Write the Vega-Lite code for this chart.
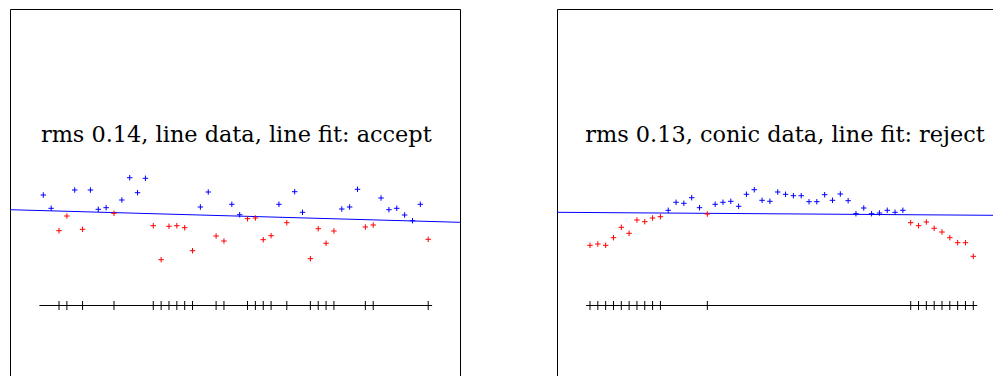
{
  "$schema": "https://vega.github.io/schema/vega-lite/v6.json",
  "background": "white",
  "padding": {"left": 8, "top": 9, "right": 0, "bottom": 0},
  "spacing": 97,
  "bounds": "flush",
  "config": {
    "view": {"stroke": null},
    "axis": {"domainColor": "black", "domainWidth": 1, "labels": false, "ticks": false, "grid": false, "title": null}
  },
  "datasets": {
    "left": [
      {"i": 0, "v": 1.105, "c": "above"}, {"i": 1, "v": 0.972, "c": "above"}, {"i": 2, "v": 0.748, "c": "below"}, {"i": 3, "v": 0.895, "c": "below"},
      {"i": 4, "v": 1.155, "c": "above"}, {"i": 5, "v": 0.762, "c": "below"}, {"i": 6, "v": 1.155, "c": "above"}, {"i": 7, "v": 0.962, "c": "above"},
      {"i": 8, "v": 0.978, "c": "above"}, {"i": 9, "v": 0.922, "c": "below"}, {"i": 10, "v": 1.055, "c": "above"}, {"i": 11, "v": 1.278, "c": "above"},
      {"i": 12, "v": 1.128, "c": "above"}, {"i": 13, "v": 1.272, "c": "above"}, {"i": 14, "v": 0.798, "c": "below"}, {"i": 15, "v": 0.458, "c": "below"},
      {"i": 16, "v": 0.792, "c": "below"}, {"i": 17, "v": 0.798, "c": "below"}, {"i": 18, "v": 0.778, "c": "below"}, {"i": 19, "v": 0.548, "c": "below"},
      {"i": 20, "v": 0.985, "c": "above"}, {"i": 21, "v": 1.135, "c": "above"}, {"i": 22, "v": 0.695, "c": "below"}, {"i": 23, "v": 0.645, "c": "below"},
      {"i": 24, "v": 1.012, "c": "above"}, {"i": 25, "v": 0.908, "c": "above"}, {"i": 26, "v": 0.868, "c": "below"}, {"i": 27, "v": 0.875, "c": "below"},
      {"i": 28, "v": 0.658, "c": "below"}, {"i": 29, "v": 0.698, "c": "below"}, {"i": 30, "v": 1.012, "c": "above"}, {"i": 31, "v": 0.828, "c": "below"},
      {"i": 32, "v": 1.138, "c": "above"}, {"i": 33, "v": 0.932, "c": "above"}, {"i": 34, "v": 0.468, "c": "below"}, {"i": 35, "v": 0.768, "c": "below"},
      {"i": 36, "v": 0.622, "c": "below"}, {"i": 37, "v": 0.745, "c": "below"}, {"i": 38, "v": 0.965, "c": "above"}, {"i": 39, "v": 0.985, "c": "above"},
      {"i": 40, "v": 1.162, "c": "above"}, {"i": 41, "v": 0.785, "c": "below"}, {"i": 42, "v": 0.805, "c": "below"}, {"i": 43, "v": 1.075, "c": "above"},
      {"i": 44, "v": 0.958, "c": "above"}, {"i": 45, "v": 0.972, "c": "above"}, {"i": 46, "v": 0.905, "c": "above"}, {"i": 47, "v": 0.848, "c": "above"},
      {"i": 48, "v": 1.012, "c": "above"}, {"i": 49, "v": 0.662, "c": "below"}
    ],
    "right": [
      {"i": 0, "v": 0.602, "c": "below"}, {"i": 1, "v": 0.615, "c": "below"}, {"i": 2, "v": 0.602, "c": "below"}, {"i": 3, "v": 0.678, "c": "below"},
      {"i": 4, "v": 0.782, "c": "below"}, {"i": 5, "v": 0.722, "c": "below"}, {"i": 6, "v": 0.855, "c": "below"}, {"i": 7, "v": 0.838, "c": "below"},
      {"i": 8, "v": 0.875, "c": "below"}, {"i": 9, "v": 0.888, "c": "below"}, {"i": 10, "v": 0.952, "c": "above"}, {"i": 11, "v": 1.032, "c": "above"},
      {"i": 12, "v": 1.022, "c": "above"}, {"i": 13, "v": 1.078, "c": "above"}, {"i": 14, "v": 0.978, "c": "above"}, {"i": 15, "v": 0.915, "c": "below"},
      {"i": 16, "v": 1.012, "c": "above"}, {"i": 17, "v": 1.032, "c": "above"}, {"i": 18, "v": 1.042, "c": "above"}, {"i": 19, "v": 0.992, "c": "above"},
      {"i": 20, "v": 1.112, "c": "above"}, {"i": 21, "v": 1.158, "c": "above"}, {"i": 22, "v": 1.052, "c": "above"}, {"i": 23, "v": 1.042, "c": "above"},
      {"i": 24, "v": 1.135, "c": "above"}, {"i": 25, "v": 1.112, "c": "above"}, {"i": 26, "v": 1.098, "c": "above"}, {"i": 27, "v": 1.098, "c": "above"},
      {"i": 28, "v": 1.038, "c": "above"}, {"i": 29, "v": 1.038, "c": "above"}, {"i": 30, "v": 1.108, "c": "above"}, {"i": 31, "v": 1.052, "c": "above"},
      {"i": 32, "v": 1.115, "c": "above"}, {"i": 33, "v": 1.048, "c": "above"}, {"i": 34, "v": 0.918, "c": "above"}, {"i": 35, "v": 0.975, "c": "above"},
      {"i": 36, "v": 0.918, "c": "above"}, {"i": 37, "v": 0.925, "c": "above"}, {"i": 38, "v": 0.952, "c": "above"}, {"i": 39, "v": 0.932, "c": "above"},
      {"i": 40, "v": 0.952, "c": "above"}, {"i": 41, "v": 0.828, "c": "below"}, {"i": 42, "v": 0.798, "c": "below"}, {"i": 43, "v": 0.835, "c": "below"},
      {"i": 44, "v": 0.772, "c": "below"}, {"i": 45, "v": 0.735, "c": "below"}, {"i": 46, "v": 0.678, "c": "below"}, {"i": 47, "v": 0.628, "c": "below"},
      {"i": 48, "v": 0.628, "c": "below"}, {"i": 49, "v": 0.492, "c": "below"}
    ],
    "leftfit": [{"i": -4.24, "v": 0.958}, {"i": 53.05, "v": 0.832}],
    "rightfit": [{"i": -4.22, "v": 0.932}, {"i": 51.52, "v": 0.902}]
  },
  "hconcat": [
    {
      "width": 450,
      "height": 367,
      "layer": [
        {
          "data": {"name": "leftfit"},
          "mark": {"type": "line", "color": "#0000ff", "strokeWidth": 1},
          "encoding": {
            "x": {"field": "i", "type": "quantitative", "scale": {"domain": [-4.24, 53.05], "nice": false, "zero": false}, "axis": {"orient": "top"}},
            "y": {"field": "v", "type": "quantitative", "scale": {"domain": [-0.705, 2.965], "nice": false, "zero": false}, "axis": {"orient": "left"}}
          }
        },
        {
          "data": {"name": "left"},
          "mark": {"type": "point", "shape": "M-1,0L1,0M0,-1L0,1", "filled": false, "size": 30, "strokeWidth": 1, "opacity": 1},
          "encoding": {
            "x": {"field": "i", "type": "quantitative", "axis": {"orient": "top"}},
            "y": {"field": "v", "type": "quantitative", "axis": {"orient": "right"}},
            "color": {"field": "c", "type": "nominal", "scale": {"domain": ["above", "below"], "range": ["#0000ff", "#ff0000"]}, "legend": null}
          }
        },
        {
          "data": {"name": "left"},
          "transform": [{"filter": "datum.c === 'below'"}],
          "mark": {"type": "rule", "color": "black", "strokeWidth": 1},
          "encoding": {
            "x": {"field": "i", "type": "quantitative", "axis": {"orient": "top"}},
            "y": {"datum": -0.045, "type": "quantitative", "axis": null},
            "y2": {"datum": 0.045}
          }
        },
        {
          "data": {"values": [{}]},
          "mark": {"type": "rule", "color": "black", "strokeWidth": 1},
          "encoding": {
            "x": {"datum": -0.5, "type": "quantitative", "axis": {"orient": "top"}},
            "x2": {"datum": 49.5},
            "y": {"datum": 0, "type": "quantitative", "axis": null}
          }
        },
        {
          "data": {"values": [{"label": "rms 0.14, line data, line fit: accept"}]},
          "mark": {"type": "text", "font": "DejaVu Serif", "fontSize": 22.4, "color": "black", "align": "center", "baseline": "alphabetic"},
          "encoding": {
            "x": {"datum": 24.57, "type": "quantitative", "axis": {"orient": "top"}},
            "y": {"datum": 1.632, "type": "quantitative", "axis": null},
            "text": {"field": "label"}
          }
        }
      ],
      "resolve": {"axis": {"y": "independent"}}
    },
    {
      "width": 436,
      "height": 367,
      "layer": [
        {
          "data": {"name": "rightfit"},
          "mark": {"type": "line", "color": "#0000ff", "strokeWidth": 1},
          "encoding": {
            "x": {"field": "i", "type": "quantitative", "scale": {"domain": [-4.22, 51.52], "nice": false, "zero": false}, "axis": {"orient": "top"}},
            "y": {"field": "v", "type": "quantitative", "scale": {"domain": [-0.705, 2.965], "nice": false, "zero": false}, "axis": {"orient": "left"}}
          }
        },
        {
          "data": {"name": "right"},
          "mark": {"type": "point", "shape": "M-1,0L1,0M0,-1L0,1", "filled": false, "size": 30, "strokeWidth": 1, "opacity": 1},
          "encoding": {
            "x": {"field": "i", "type": "quantitative", "axis": {"orient": "top"}},
            "y": {"field": "v", "type": "quantitative", "axis": {"orient": "left"}},
            "color": {"field": "c", "type": "nominal", "scale": {"domain": ["above", "below"], "range": ["#0000ff", "#ff0000"]}, "legend": null}
          }
        },
        {
          "data": {"name": "right"},
          "transform": [{"filter": "datum.c === 'below'"}],
          "mark": {"type": "rule", "color": "black", "strokeWidth": 1},
          "encoding": {
            "x": {"field": "i", "type": "quantitative", "axis": {"orient": "top"}},
            "y": {"datum": -0.045, "type": "quantitative", "axis": {"orient": "left"}},
            "y2": {"datum": 0.045}
          }
        },
        {
          "data": {"values": [{}]},
          "mark": {"type": "rule", "color": "black", "strokeWidth": 1},
          "encoding": {
            "x": {"datum": -0.5, "type": "quantitative", "axis": {"orient": "top"}},
            "x2": {"datum": 49.5},
            "y": {"datum": 0, "type": "quantitative", "axis": {"orient": "left"}}
          }
        },
        {
          "data": {"values": [{"label": "rms 0.13, conic data, line fit: reject"}]},
          "mark": {"type": "text", "font": "DejaVu Serif", "fontSize": 22.4, "color": "black", "align": "center", "baseline": "alphabetic"},
          "encoding": {
            "x": {"datum": 24.93, "type": "quantitative", "axis": {"orient": "top"}},
            "y": {"datum": 1.632, "type": "quantitative", "axis": {"orient": "left"}},
            "text": {"field": "label"}
          }
        }
      ]
    }
  ]
}
